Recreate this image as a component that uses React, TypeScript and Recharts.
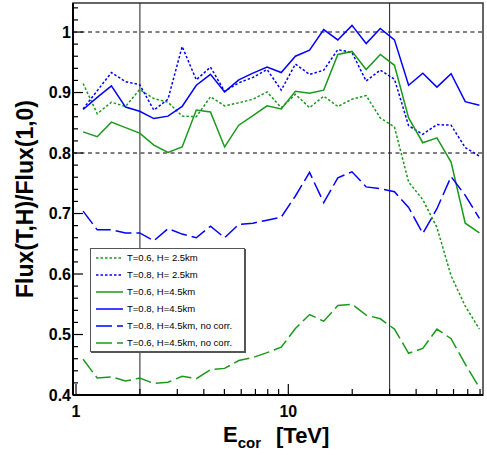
import React from 'react';
import { LineChart, Line, XAxis, YAxis, ReferenceLine, ReferenceArea, Legend } from 'recharts';

// bin centres, 15 bins per decade
const energy = [
  1.080, 1.259, 1.468, 1.711, 1.995, 2.326, 2.712, 3.162, 3.687, 4.299,
  5.012, 5.843, 6.813, 7.943, 9.261, 10.80, 12.59, 14.68, 17.11, 19.95,
  23.26, 27.12, 31.62, 36.87, 42.99, 50.12, 58.43, 68.13, 79.43,
];

const t06h25 = [
  0.915, 0.865, 0.884, 0.877, 0.905, 0.890, 0.884, 0.861, 0.860, 0.893,
  0.878, 0.883, 0.889, 0.901, 0.875, 0.897, 0.875, 0.894, 0.877, 0.889,
  0.895, 0.858, 0.843, 0.752, 0.723, 0.677, 0.597, 0.547, 0.509,
];
const t08h25 = [
  0.873, 0.903, 0.933, 0.918, 0.913, 0.871, 0.889, 0.976, 0.921, 0.942,
  0.902, 0.916, 0.925, 0.938, 0.904, 0.947, 0.930, 0.937, 0.971, 0.966,
  0.919, 0.937, 0.922, 0.845, 0.831, 0.847, 0.846, 0.809, 0.795,
];
const t06h45 = [
  0.835, 0.827, 0.851, 0.842, 0.833, 0.813, 0.801, 0.810, 0.871, 0.868,
  0.810, 0.846, 0.862, 0.878, 0.873, 0.902, 0.899, 0.904, 0.963, 0.968,
  0.938, 0.963, 0.945, 0.858, 0.817, 0.825, 0.785, 0.684, 0.668,
];
const t08h45 = [
  0.872, 0.892, 0.911, 0.876, 0.869, 0.857, 0.861, 0.877, 0.912, 0.930,
  0.901, 0.921, 0.932, 0.942, 0.933, 0.960, 0.970, 1.004, 0.987, 1.011,
  0.981, 1.006, 0.987, 0.912, 0.932, 0.909, 0.931, 0.885, 0.879,
];
const t08h45nc = [
  0.704, 0.673, 0.673, 0.668, 0.668, 0.655, 0.675, 0.666, 0.660, 0.679,
  0.660, 0.682, 0.684, 0.689, 0.694, 0.729, 0.768, 0.718, 0.759, 0.769,
  0.744, 0.741, 0.736, 0.710, 0.667, 0.708, 0.761, 0.730, 0.692,
];
const t06h45nc = [
  0.459, 0.428, 0.430, 0.423, 0.428, 0.419, 0.421, 0.431, 0.427, 0.442,
  0.444, 0.457, 0.462, 0.470, 0.479, 0.510, 0.533, 0.522, 0.548, 0.550,
  0.532, 0.526, 0.509, 0.469, 0.477, 0.509, 0.493, 0.451, 0.412,
];

const xTicks = [1, 2, 3, 4, 5, 6, 7, 8, 9, 10, 20, 30, 40, 50, 60, 70, 80];
const xLabels = [1, 10];
const yTicks = [
  0.4, 0.42, 0.44, 0.46, 0.48, 0.5, 0.52, 0.54, 0.56, 0.58, 0.6, 0.62, 0.64, 0.66, 0.68,
  0.7, 0.72, 0.74, 0.76, 0.78, 0.8, 0.82, 0.84, 0.86, 0.88, 0.9, 0.92, 0.94, 0.96, 0.98,
  1.0, 1.02, 1.04,
];
const yLabels = [0.4, 0.5, 0.6, 0.7, 0.8, 0.9, 1.0];

const GREEN = '#1a9a1a';
const BLUE = '#0000ff';
const DOT = '2.5 2';
const LONG = '16 5';

const series = [
  { key: 't06h25', name: 'T=0.6, H= 2.5km', color: GREEN, dash: DOT, values: t06h25 },
  { key: 't08h25', name: 'T=0.8, H= 2.5km', color: BLUE, dash: DOT, values: t08h25 },
  { key: 't06h45', name: 'T=0.6, H=4.5km', color: GREEN, dash: undefined, values: t06h45 },
  { key: 't08h45', name: 'T=0.8, H=4.5km', color: BLUE, dash: undefined, values: t08h45 },
  { key: 't08h45nc', name: 'T=0.8, H=4.5km, no corr.', color: BLUE, dash: LONG, values: t08h45nc },
  { key: 't06h45nc', name: 'T=0.6, H=4.5km, no corr.', color: GREEN, dash: LONG, values: t06h45nc },
];

const data = energy.map((e, i) => {
  const row: Record<string, number> = { e };
  series.forEach(s => { row[s.key] = s.values[i]; });
  return row;
});

const FONT = '"Liberation Sans", Arial, Helvetica, sans-serif';
const X_DOMAIN = [0.968, 82.6];
const Y_DOMAIN = [0.4, 1.048];

const XTick = (props: any) => {
  const { x, y, payload } = props;
  const major = xLabels.includes(payload.value);
  return (
    <g>
      <line x1={x} x2={x} y1={y} y2={y - (major ? 11 : 6)} stroke="#000" strokeWidth={1.2} />
      {major && (
        <text x={x} y={y + 22} textAnchor="middle" fontFamily={FONT} fontWeight="bold" fontSize={16} fill="#000">
          {payload.value}
        </text>
      )}
    </g>
  );
};

const YTick = (props: any) => {
  const { x, y, payload } = props;
  const v = payload.value;
  const major = yLabels.some(l => Math.abs(l - v) < 1e-6);
  return (
    <g>
      <line x1={x} x2={x + (major ? 10 : 5)} y1={y} y2={y} stroke="#000" strokeWidth={1.2} />
      {major && (
        <text x={x - 2} y={y} dy="0.36em" textAnchor="end" fontFamily={FONT} fontWeight="bold" fontSize={16} fill="#000">
          {Math.abs(v - 1) < 1e-6 ? '1' : v.toFixed(1)}
        </text>
      )}
    </g>
  );
};

const XTitle = ({ viewBox }: any) => (
  <text x={viewBox.x + 150} y={viewBox.y + 47} fontFamily={FONT} fontWeight="bold" fontSize={22} fill="#000">
    E
    <tspan fontSize={15} dy={6}>cor</tspan>
    <tspan x={viewBox.x + 203} dy={-5}>[TeV]</tspan>
  </text>
);

const YTitle = ({ viewBox }: any) => {
  const cx = viewBox.x + 33;
  const cy = viewBox.y + viewBox.height / 2;
  return (
    <text x={cx} y={cy} transform={`rotate(-90, ${cx}, ${cy})`} textAnchor="middle"
      fontFamily={FONT} fontWeight="bold" fontSize={23} fill="#000">
      Flux(T,H)/Flux(1,0)
    </text>
  );
};

const LegendBox = () => (
  <div style={{ border: '1px solid #555', boxShadow: '1px 1px 0 #555', background: '#fff', width: 153, height: 102, fontFamily: FONT }}>
    {series.map(s => (
      <div key={s.key} style={{ height: 17, display: 'flex', alignItems: 'center' }}>
        <svg width={32} height={10} style={{ flex: 'none' }}>
          <line x1={5} x2={32} y1={5} y2={5} stroke={s.color} strokeWidth={1.5} strokeDasharray={s.dash} />
        </svg>
        <span style={{ fontSize: 9.5, marginLeft: 4, color: '#000', whiteSpace: 'nowrap' }}>{s.name}</span>
      </div>
    ))}
  </div>
);

export default function App() {
  return (
    <div style={{ position: 'absolute', left: 0, top: 0, width: 487, height: 455, background: '#fff' }}>
      <LineChart width={487} height={455} data={data} margin={{ top: 3, right: 4, bottom: 0, left: 0 }}>
        <XAxis dataKey="e" type="number" scale="log" domain={X_DOMAIN} allowDataOverflow ticks={xTicks} interval={0}
          height={60} tickSize={0} tickMargin={0} tickLine={false} tick={<XTick />}
          axisLine={{ stroke: '#000', strokeWidth: 2 }} label={<XTitle />} />
        <YAxis type="number" domain={Y_DOMAIN} allowDataOverflow ticks={yTicks} interval={0}
          width={73} tickSize={0} tickMargin={0} tickLine={false} tick={<YTick />}
          axisLine={{ stroke: '#000', strokeWidth: 2 }} label={<YTitle />} />
        <ReferenceArea x1={X_DOMAIN[0]} x2={X_DOMAIN[1]} y1={Y_DOMAIN[0]} y2={Y_DOMAIN[1]}
          fill="none" stroke="#333" strokeWidth={1.5} ifOverflow="visible" />
        <ReferenceLine y={1} stroke="#555" strokeWidth={1.5} strokeDasharray="4 3.5" />
        <ReferenceLine y={0.8} stroke="#555" strokeWidth={1.5} strokeDasharray="4 3.5" />
        <ReferenceLine x={2} stroke="#222" strokeWidth={1} />
        <ReferenceLine x={30} stroke="#222" strokeWidth={1} />
        {series.map(s => (
          <Line key={s.key} dataKey={s.key} name={s.name} type="linear" stroke={s.color} strokeWidth={1.5}
            strokeDasharray={s.dash} dot={false} activeDot={false} isAnimationActive={false} />
        ))}
        <Legend layout="vertical" verticalAlign="middle" align="center" content={<LegendBox />}
          wrapperStyle={{ left: 90, top: 248, width: 156, height: 104 }} />
      </LineChart>
    </div>
  );
}
